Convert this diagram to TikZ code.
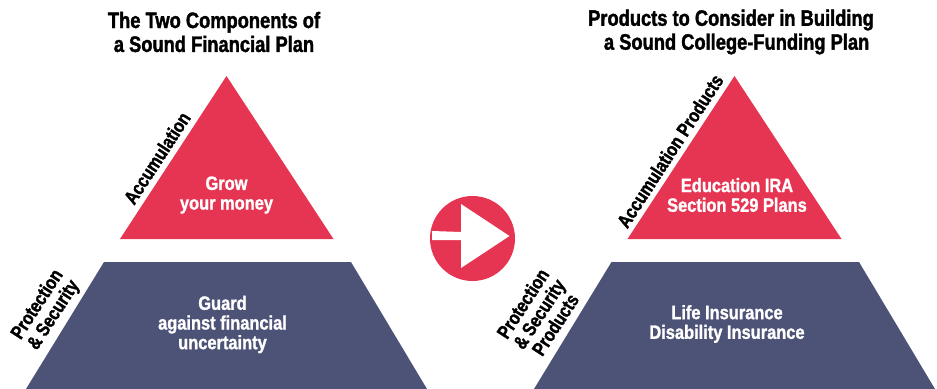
\documentclass[tikz,border=0pt]{standalone}
\usepackage{fontspec}
\newfontfamily\titlefont[FakeStretch=0.82,BoldFeatures={FakeStretch=0.82,FakeBold=1.6}]{Liberation Sans}
\newfontfamily\bodyfont[FakeStretch=0.85,BoldFeatures={FakeStretch=0.85,FakeBold=1.2}]{Liberation Sans}
\usepackage{xcolor}
\definecolor{pyrred}{HTML}{E63553}
\definecolor{pyrblue}{HTML}{4D5277}
\tikzset{
  titletext/.style={align=center, inner sep=0pt, font=\fontsize{12.7}{13.6}\selectfont\titlefont\bfseries},
  bodytext/.style={align=center, inner sep=0pt, text=white, font=\fontsize{11}{11.2}\selectfont\bodyfont\bfseries},
  sidetext/.style={align=center, inner sep=0pt, rotate=57, font=\fontsize{11}{11}\selectfont\titlefont\bfseries},
}
\begin{document}
\begin{tikzpicture}[x=0.02cm, y=-0.02cm]
    \useasboundingbox (0,0) rectangle (937,389);

    % left pyramid
    \fill[pyrred] (226.5,76) -- (333.5,239) -- (120,239) -- cycle;
    \fill[pyrblue] (104,262) -- (351,262) -- (427,389) -- (26,389) -- cycle;

    % right pyramid
    \fill[pyrred] (734.5,76) -- (841.5,239) -- (627.5,239) -- cycle;
    \fill[pyrblue] (611.5,262) -- (859,262) -- (935,389) -- (534,389) -- cycle;

    % arrow between
    \fill[pyrred] (472.5,238.5) circle (42.5);
    \fill[white] (461,204) -- (509.5,236) -- (461,268) -- cycle;
    \fill[white] (432,231) -- (461,232) -- (461,240) -- (432,240) -- cycle;

    % titles
    \node[titletext] (lefttitle) at (214,32) {The Two Components of\\a Sound Financial Plan};
    \node[titletext] (righttitle) at (731,32) {Products to Consider in Building\\\hspace*{16\pgflinewidth}a Sound College-Funding Plan};

    % inside the pyramids
    \node[bodytext] (grow) at (226.5,195) {Grow\\your money};
    \node[bodytext] (guard) at (222.5,324.5) {Guard\\against financial\\uncertainty};
    \node[bodytext] (education) at (737,195) {Education IRA\\Section 529 Plans};
    \node[bodytext] (life) at (727,324) {Life Insurance\\Disability Insurance};

    % along the sides
    \node[sidetext] (accum) at (157,158) {Accumulation};
    \node[sidetext] (protect) at (46,310) {Protection\\\& Security};
    \node[sidetext] (accumprod) at (670,151) {Accumulation Products};
    \node[sidetext] (protectprod) at (539,314) {Protection\\\& Security\\Products};
\end{tikzpicture}
\end{document}
